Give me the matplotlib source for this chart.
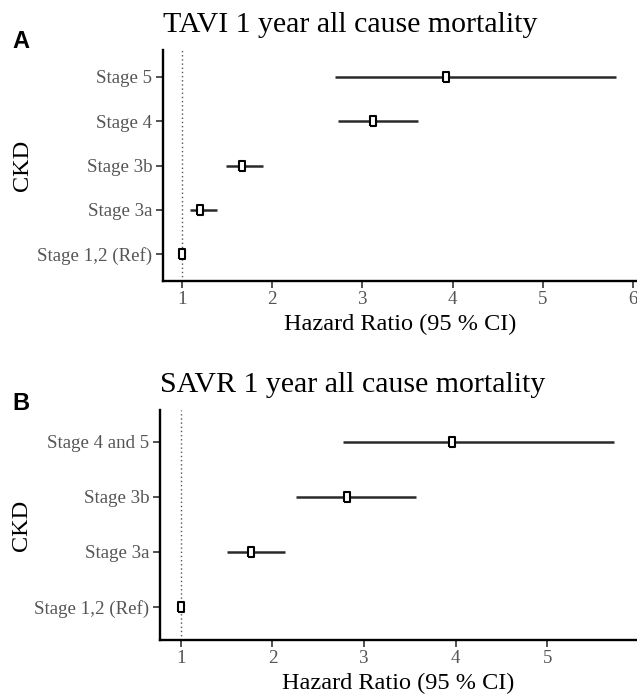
import matplotlib.pyplot as plt
import numpy as np

plt.rcParams['font.family'] = ['Liberation Serif', 'DejaVu Serif']

# TAVI panel (A)
tavi_labels = ['Stage 1,2 (Ref)', 'Stage 3a', 'Stage 3b', 'Stage 4', 'Stage 5']
tavi_hr = [1.0, 1.20, 1.66, 3.12, 3.93]
tavi_lo = [1.0, 1.09, 1.49, 2.73, 2.70]
tavi_hi = [1.0, 1.39, 1.90, 3.62, 5.81]

# SAVR panel (B)
savr_labels = ['Stage 1,2 (Ref)', 'Stage 3a', 'Stage 3b', 'Stage 4 and 5']
savr_hr = [1.0, 1.77, 2.81, 3.96]
savr_lo = [1.0, 1.50, 2.26, 2.77]
savr_hi = [1.0, 2.14, 3.57, 5.73]

# tall narrow box marker
box = [(-0.55, -1), (0.55, -1), (0.55, 1), (-0.55, 1), (-0.55, -1)]

fig = plt.figure(figsize=(6.37, 6.97), dpi=100)
axA = fig.add_axes([0.2553, 0.5968, 0.7447, 0.3315])
axB = fig.add_axes([0.2509, 0.0818, 0.7491, 0.3300])


def forest(ax, labels, hr, lo, hi, title, xlim, ylim, xticks):
    y = np.arange(len(labels))
    ax.axvline(1, color='#555555', ls=(0, (1, 2)), lw=1.0, zorder=1)
    ax.hlines(y, lo, hi, color='#2a2a2a', lw=1.8, zorder=2)
    ax.plot(hr, y, ls='none', marker=box, ms=6.8, mfc='white',
            mec='black', mew=1.5, zorder=3)
    ax.set_yticks(y)
    ax.set_yticklabels(labels)
    ax.set_xticks(xticks)
    ax.set_xlim(*xlim)
    ax.set_ylim(*ylim)
    for s in ['top', 'right']:
        ax.spines[s].set_visible(False)
    for s in ['left', 'bottom']:
        ax.spines[s].set_linewidth(1.7)
        ax.spines[s].set_color('black')
    ax.tick_params(length=5, width=1.2, color='#333333', labelcolor='#555555',
                   labelsize=13.6, pad=2.5)
    ax.set_xlabel('Hazard Ratio (95 % CI)', fontsize=17.5, va='center')
    ax.xaxis.set_label_coords(0.5, -0.19)
    ax.set_ylabel('CKD', fontsize=17.5, va='center')
    ax.set_title(title, loc='left', fontsize=21.5, pad=13)


forest(axA, tavi_labels, tavi_hr, tavi_lo, tavi_hi,
       'TAVI 1 year all cause mortality', (0.785, 6.044), (-0.61, 4.61),
       [1, 2, 3, 4, 5, 6])
axA.yaxis.set_label_coords(-0.296, 0.5)

forest(axB, savr_labels, savr_hr, savr_lo, savr_hi,
       'SAVR 1 year all cause mortality', (0.77, 5.98), (-0.6, 3.58),
       [1, 2, 3, 4, 5])
axB.yaxis.set_label_coords(-0.289, 0.5)

fig.text(0.033, 1 - 41 / 697, 'A', family='Liberation Sans', weight='bold',
         fontsize=17, ha='center', va='center')
fig.text(0.033, 1 - 404 / 697, 'B', family='Liberation Sans', weight='bold',
         fontsize=17, ha='center', va='center')

fig.savefig('out.png', dpi=100)
